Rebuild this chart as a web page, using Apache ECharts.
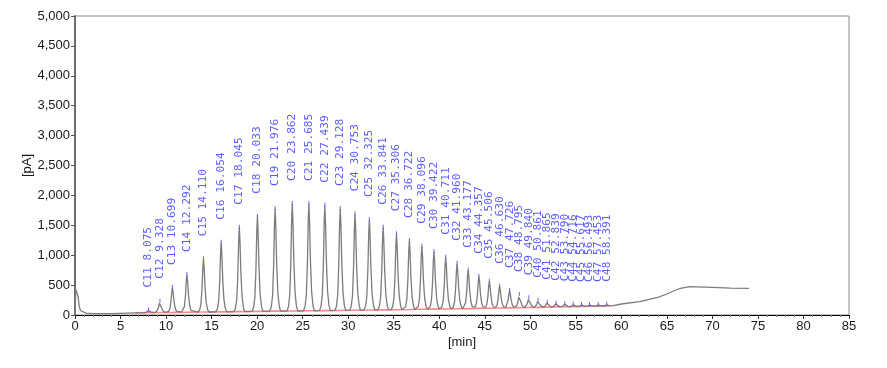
<!DOCTYPE html>
<html>
<head>
<meta charset="utf-8">
<script src="https://cdn.jsdelivr.net/npm/echarts@6/dist/echarts.min.js"></script>
<style>html,body{margin:0;padding:0;background:#fff}#c{width:887px;height:368px}</style>
</head>
<body>
<div id="c"></div>
<script>
// Peak table (name, retention time [min], apex signal [pA], baseline under peak [pA])
const peakNames = ['C11','C12','C13','C14','C15','C16','C17','C18','C19','C20','C21','C22','C23','C24','C25','C26','C27','C28','C29','C30','C31','C32','C33','C34','C35','C36','C37','C38','C39','C40','C41','C42','C43','C44','C45','C46','C47','C48'];
const peakTimes = [8.075,9.328,10.699,12.292,14.110,16.054,18.045,20.033,21.976,23.862,25.685,27.439,29.128,30.753,32.325,33.841,35.306,36.722,38.096,39.422,40.711,41.960,43.177,44.357,45.506,46.630,47.726,48.795,49.840,50.861,51.865,52.839,53.790,54.716,55.617,56.493,57.453,58.391];
const peakHeights = [75,222,450,669,931,1209,1460,1644,1772,1856,1856,1828,1772,1683,1588,1460,1349,1237,1142,1053,958,856,741,641,557,474,401,334,279,240,206,190,180,173,169,167,167,170];
const peakBases = [40,42,44,47,50,53,56,60,64,67,70,73,76,80,83,86,89,92,95,98,101,104,107,110,113,116,119,122,125,128,131,134,137,140,143,146,149,152];
// Peak profile: offset from apex [min] and fraction of peak height
const shapeDt = [-0.6,-0.42,-0.28,-0.16,-0.07,0,0.07,0.17,0.3,0.45,0.6];
const shapeFrac = [0,0.04,0.15,0.45,0.85,1,0.85,0.47,0.18,0.05,0];
// Trace before the first peak (solvent peak) and after the last peak (column bleed)
const leadT = [0,0.08,0.15,0.25,0.35,0.45,0.6,0.8,1.2,2,4,6.6];
const leadV = [0,430,460,440,300,150,75,48,32,24,22,35];
const tailT = [59,60,62,64,65,66,66.5,67.5,70,72,74];
const tailV = [160,184,223,296,351,418,446,474,463,451,446];
// Integration baseline end points
const baseStart = [6.6,35];
const baseEnd = [58.8,153];
// Axis ticks
const xMax = 85, xStep = 5, yMax = 5000, yStep = 500;

const trace = [];
leadT.forEach((t,i)=>trace.push([t,leadV[i]]));
peakTimes.forEach((t,i)=>{
  const b = peakBases[i], h = peakHeights[i];
  shapeDt.forEach((d,k)=>trace.push([+(t+d).toFixed(3), b + shapeFrac[k]*(h-b)]));
});
tailT.forEach((t,i)=>trace.push([t,tailV[i]]));

const baseLine = [baseStart].concat(peakTimes.map((t,i)=>[t,peakBases[i]])).concat([baseEnd]);
const apexes = peakTimes.map((t,i)=>({name: peakNames[i] + ' ' + t.toFixed(3), value:[t,peakHeights[i]]}));

const chart = echarts.init(document.getElementById('c'), null, {renderer:'canvas'});
const axisFont = {fontFamily:'Liberation Sans, Arial, sans-serif', fontSize:13, color:'#1a1a1a'};
chart.setOption({
  animation:false,
  backgroundColor:'#fff',
  grid:{left:75, right:38, top:16, bottom:53, show:true, borderColor:'#8a8a8a', borderWidth:1},
  xAxis:{
    type:'value', min:0, max:xMax, interval:xStep,
    name:'[min]', nameLocation:'middle', nameGap:21, nameMoveOverlap:false,
    nameTextStyle:axisFont,
    axisLine:{show:true, onZero:false, lineStyle:{color:'#000', width:1}},
    axisTick:{show:true, length:4, lineStyle:{color:'#333'}},
    minorTick:{show:true, splitNumber:5, length:2, lineStyle:{color:'#777'}},
    axisLabel:Object.assign({margin:5}, axisFont),
    splitLine:{show:false}
  },
  yAxis:{
    type:'value', min:0, max:yMax, interval:yStep,
    name:'[pA]', nameLocation:'middle', nameGap:41, nameMoveOverlap:false,
    nameTextStyle:axisFont,
    axisLine:{show:true, lineStyle:{color:'#6e6e6e', width:2}},
    axisTick:{show:true, length:4, lineStyle:{color:'#555'}},
    axisLabel:Object.assign({margin:5, formatter:v=>v.toLocaleString('en-US')}, axisFont),
    splitLine:{show:false}
  },
  series:[
    {type:'line', data:baseLine, symbol:'none', silent:true,
     lineStyle:{color:'rgba(255,70,70,0.65)', width:1.6}, z:2},
    {type:'line', data:trace, symbol:'none', silent:true,
     lineStyle:{color:'#7c7c7c', width:1.3}, z:3},
    {type:'scatter', data:apexes, symbol:'rect', symbolSize:[1,4], symbolOffset:[0,-1],
     itemStyle:{color:'#3c3cff'}, silent:true, z:4,
     label:{show:true, position:'top', distance:14, rotate:90, align:'left', verticalAlign:'middle',
       offset:[6,0], formatter:p=>p.name, color:'#3333ff',
       fontFamily:'DejaVu Sans Mono, Liberation Mono, monospace', fontSize:11.2}
    }
  ]
});
</script>
</body>
</html>
